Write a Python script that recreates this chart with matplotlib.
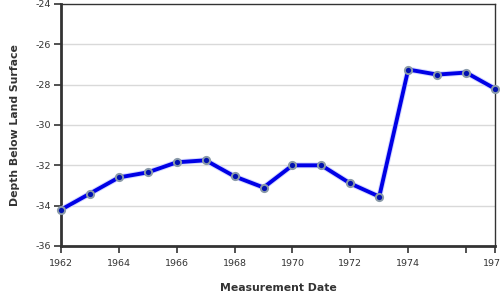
import matplotlib.pyplot as plt
import matplotlib.patheffects as pe
import numpy as np

years = [1962, 1963, 1964, 1965, 1966, 1967, 1968, 1969,
         1970, 1971, 1972, 1973, 1974, 1975, 1976, 1977]
depth = [-34.2, -33.4, -32.6, -32.35, -31.85, -31.75, -32.55, -33.1,
         -32.0, -32.0, -32.9, -33.55, -27.25, -27.5, -27.4, -28.2]

x_ticks = [1962, 1964, 1966, 1968, 1970, 1972, 1974, 1976, 1977]
x_labels = ["1962", "1964", "1966", "1968", "1970", "1972", "1974", "", "1977"]
y_ticks = [-36, -34, -32, -30, -28, -26, -24]

fig = plt.figure(figsize=(5, 3), dpi=100)
ax = fig.add_axes([0.122, 0.18, 0.868, 0.8067])

ax.set_xlim(1962, 1977)
ax.set_ylim(-36, -24)

for y in y_ticks[1:-1]:
    ax.axhline(y, color="#d9d9d9", lw=1, zorder=0)

ax.plot(years, depth, color="#0000e6", lw=2.8, solid_joinstyle="round",
        path_effects=[pe.Stroke(linewidth=4.2, foreground="#d4d8ff"), pe.Normal()],
        zorder=3)
ax.plot(years, depth, ls="none", marker="o", ms=5.2, mfc="#0010b0",
        mec="#8a9aa8", mew=1.4, zorder=4, clip_on=False)

ax.set_xticks(x_ticks)
ax.set_xticklabels(x_labels)
ax.set_yticks(y_ticks)
ax.set_yticklabels([str(v) for v in y_ticks])

ax.tick_params(axis="both", colors="#333333", labelsize=6.8, length=5, width=1.2)
ax.tick_params(axis="x", pad=4)
ax.tick_params(axis="y", pad=2)

for side in ["left", "bottom"]:
    ax.spines[side].set_linewidth(2)
    ax.spines[side].set_color("#333333")
for side in ["top", "right"]:
    ax.spines[side].set_linewidth(1)
    ax.spines[side].set_color("#333333")

ax.set_xlabel("Measurement Date", fontsize=7.8, fontweight="bold", color="#333333", labelpad=11)
ax.set_ylabel("Depth Below Land Surface", fontsize=7.8, fontweight="bold", color="#333333", labelpad=11)

fig.savefig("out.png", dpi=100)
